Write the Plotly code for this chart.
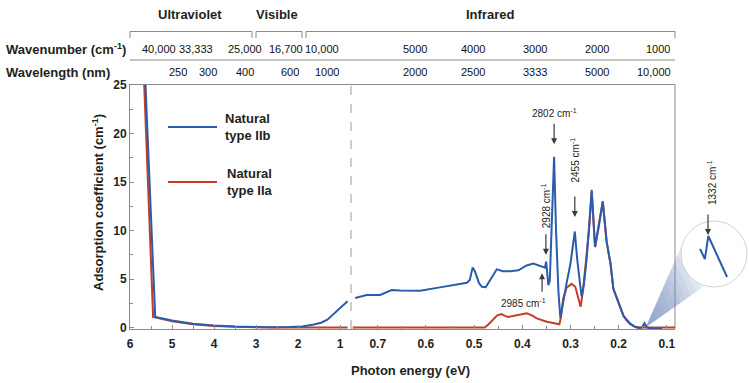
import plotly.graph_objects as go

# ---------------- data ----------------
# Left panel: UV / visible / near-IR, photon energy in eV (6 -> ~0.74)
uv_energy_iib = [5.635, 5.40, 5.20, 5.00, 4.50, 4.00, 3.50, 3.00, 2.60, 2.20, 1.90,
                 1.65, 1.45, 1.30, 1.10, 0.95, 0.82]
uv_coef_iib = [25.4, 1.10, 0.90, 0.72, 0.40, 0.20, 0.10, 0.04, 0.03, 0.06, 0.12,
               0.28, 0.50, 0.80, 1.60, 2.20, 2.70]
uv_energy_iia = [5.665, 5.45, 5.20, 5.00, 4.50, 4.00, 3.50, 3.00, 2.60, 2.00, 1.50,
                 1.00, 0.82]
uv_coef_iia = [25.4, 1.10, 0.85, 0.65, 0.33, 0.16, 0.07, 0.02, 0.0, 0.0, 0.0,
               0.0, 0.0]

# Right panel: mid-IR, photon energy in eV (~0.75 -> 0.08)
ir_energy_iib = [0.747, 0.723, 0.695, 0.688, 0.671, 0.654, 0.612, 0.571, 0.536,
                 0.515, 0.509, 0.503, 0.498, 0.490, 0.484, 0.476, 0.468, 0.453,
                 0.440, 0.425, 0.408, 0.391, 0.377, 0.360, 0.353, 0.3505, 0.3485,
                 0.346, 0.343, 0.334, 0.330, 0.325, 0.321, 0.315, 0.308, 0.300,
                 0.291, 0.286, 0.281, 0.277, 0.272, 0.267, 0.262, 0.256, 0.249,
                 0.242, 0.233, 0.225, 0.217, 0.211, 0.204, 0.190, 0.176, 0.165,
                 0.158, 0.152, 0.1465, 0.141, 0.130, 0.115, 0.110]
ir_coef_iib = [3.04, 3.35, 3.35, 3.50, 3.87, 3.82, 3.80, 4.14, 4.48,
               4.62, 4.90, 6.20, 5.75, 4.60, 4.20, 4.15, 4.80, 6.00,
               5.80, 5.80, 5.90, 6.40, 6.60, 6.27, 6.17, 6.80, 5.30,
               4.38, 4.80, 17.6, 10.0, 3.70, 1.00, 2.80, 4.60, 6.60,
               9.90, 7.00, 4.50, 3.20, 4.50, 6.80, 10.0, 14.2, 8.30,
               10.2, 13.0, 8.85, 6.60, 4.00, 3.10, 1.20, 0.40, 0.05,
               -0.05, 0.0, 0.45, 0.0, -0.10, -0.12, -0.12]
ir_energy_iia = [0.752, 0.500, 0.478, 0.470, 0.462, 0.452, 0.443, 0.436, 0.429,
                 0.420, 0.412, 0.400, 0.391, 0.380, 0.370, 0.349, 0.335, 0.323,
                 0.320, 0.315, 0.308, 0.298, 0.290, 0.284, 0.279, 0.274, 0.268,
                 0.262, 0.256, 0.249, 0.242, 0.233, 0.225, 0.217, 0.211, 0.204,
                 0.190, 0.184, 0.176, 0.165, 0.155, 0.083]
ir_coef_iia = [0.0, 0.0, 0.0, 0.35, 0.80, 1.25, 1.39, 1.20, 1.10,
               1.20, 1.29, 1.40, 1.46, 1.25, 0.95, 0.60, 0.45, 0.33,
               1.00, 3.00, 4.10, 4.50, 4.20, 3.20, 2.14, 3.80, 6.50,
               9.80, 14.0, 8.30, 10.2, 13.0, 8.85, 6.60, 4.00, 3.10,
               1.20, 0.77, 0.35, 0.05, 0.0, 0.0]

# Magnified view around the 1332 cm-1 line (type IIb)
zoom_energy = [0.1496, 0.1482, 0.1472, 0.1418]
zoom_coef = [0.271, 0.098, 0.496, -0.213]

# Axis ticks
left_ticks = [6, 5, 4, 3, 2, 1]
right_ticks = [0.7, 0.6, 0.5, 0.4, 0.3, 0.2, 0.1]
y_ticks = [0, 5, 10, 15, 20, 25]

# Upper scales: wavenumber and wavelength labels
wavenumber_labels = ["40,000", "33,333", "25,000", "16,700", "10,000",
                     "5000", "4000", "3000", "2000", "1000"]
wavenumber_label_x = [159, 196, 244.5, 286, 322, 415, 473.5, 534.5, 596.5, 657.5]
wavelength_labels = ["250", "300", "400", "600", "1000",
                     "2000", "2500", "3333", "5000", "10,000"]
wavelength_label_x = [178, 208, 245, 290, 327, 415, 473.5, 535, 596.5, 654]
region_labels = ["Ultraviolet", "Visible", "Infrared"]
region_label_x = [189.5, 277, 490]
region_spans = [(130, 252), (256, 302), (306, 675)]
# top-frame ticks (eV) following the wavenumber scale
top_ticks_left = [4.96, 4.13, 3.10, 2.07, 1.24]
top_ticks_right = [0.702, 0.640, 0.577, 0.513, 0.450, 0.388, 0.326, 0.260, 0.197, 0.129]

BLUE = "#2b5cab"
RED = "#c63d24"
TXT = "#231f20"
AX = "#8a8a8a"
FONT = "Liberation Sans, Arial, sans-serif"

W, H = 749, 383
ML, MR, MT, MB = 130, 0, 85, 54
PW, PH = W - ML - MR, H - MT - MB


def fx(p):
    return (p - ML) / PW


def fy(p):
    return (H - MB - p) / PH


split = fx(351)
right_end = fx(675)

fig = go.Figure()

fig.add_trace(go.Scatter(x=uv_energy_iia, y=uv_coef_iia, mode="lines",
                         line=dict(color=RED, width=2), xaxis="x", yaxis="y",
                         showlegend=False))
fig.add_trace(go.Scatter(x=ir_energy_iia, y=ir_coef_iia, mode="lines",
                         line=dict(color=RED, width=2), xaxis="x2", yaxis="y",
                         showlegend=False))
fig.add_trace(go.Scatter(x=uv_energy_iib, y=uv_coef_iib, mode="lines",
                         line=dict(color=BLUE, width=2), xaxis="x", yaxis="y",
                         showlegend=False))
fig.add_trace(go.Scatter(x=ir_energy_iib, y=ir_coef_iib, mode="lines",
                         line=dict(color=BLUE, width=2), xaxis="x2", yaxis="y",
                         showlegend=False))
# magnified curve inside the lens
fig.add_trace(go.Scatter(x=zoom_energy, y=zoom_coef, mode="lines",
                         line=dict(color=BLUE, width=2), xaxis="x5", yaxis="y5",
                         showlegend=False, cliponaxis=False))

tickfont = dict(family=FONT, size=12, color=TXT, weight="bold")

fig.update_layout(
    width=W, height=H,
    margin=dict(l=ML, r=MR, t=MT, b=MB),
    paper_bgcolor="white", plot_bgcolor="rgba(0,0,0,0)",
    font=dict(family=FONT, color=TXT),
    xaxis=dict(domain=[0, split], range=[6, 6 - 221 / 42], anchor="y",
               tickvals=left_ticks, ticks="inside", ticklen=4, tickcolor=AX,
               showline=True, linecolor=AX, linewidth=1, mirror=True,
               showgrid=False, zeroline=False, tickfont=tickfont,
               ticklabelstandoff=4,
               minor=dict(dtick=0.5, ticks="inside", ticklen=3, tickcolor=AX)),
    xaxis2=dict(domain=[split, right_end], range=[0.7555, 0.0831], anchor="y",
                tickvals=right_ticks, ticks="inside", ticklen=4, tickcolor=AX,
                showline=True, linecolor=AX, linewidth=1, mirror=True,
                showgrid=False, zeroline=False, tickfont=tickfont,
                ticklabelstandoff=4,
                minor=dict(dtick=0.05, ticks="inside", ticklen=3, tickcolor=AX)),
    xaxis3=dict(domain=[0, split], range=[6, 6 - 221 / 42], overlaying="x",
                side="top", anchor="y", tickvals=top_ticks_left, ticks="inside",
                ticklen=4, tickcolor=AX, showticklabels=False, showgrid=False,
                zeroline=False),
    xaxis4=dict(domain=[split, right_end], range=[0.7555, 0.0831], overlaying="x2",
                side="top", anchor="y", tickvals=top_ticks_right, ticks="inside",
                ticklen=4, tickcolor=AX, showticklabels=False, showgrid=False,
                zeroline=False),
    yaxis=dict(domain=[0, 1], range=[-0.15, 25], anchor="x",
               tickvals=y_ticks, ticks="inside", ticklen=4, tickcolor=AX,
               showline=True, linecolor=AX, linewidth=1,
               showgrid=False, zeroline=False, tickfont=tickfont,
               minor=dict(dtick=2.5, ticks="inside", ticklen=3, tickcolor=AX)),
    xaxis5=dict(domain=[fx(690), fx(735)], range=[0.1525, 0.1395], anchor="y5",
                visible=False),
    yaxis5=dict(domain=[fy(282), fy(230)], range=[-0.3, 0.6], anchor="x5",
                visible=False),
)

shapes = []
# right frame edge
shapes.append(dict(type="line", xref="paper", yref="paper", x0=right_end, x1=right_end,
                   y0=0, y1=1, layer="below", line=dict(color=AX, width=1)))
# break between the two energy scales
shapes.append(dict(type="line", xref="paper", yref="paper", x0=split, x1=split,
                   y0=0, y1=1, line=dict(color="#9a9a9a", width=1, dash="dash")))
# region brackets
for a, b in region_spans:
    shapes.append(dict(type="path", xref="paper", yref="paper",
                       path=f"M{fx(a)},{fy(38)} L{fx(a)},{fy(31.5)} L{fx(b)},{fy(31.5)} L{fx(b)},{fy(38)}",
                       line=dict(color=AX, width=1)))
# separator between wavenumber and wavelength rows
shapes.append(dict(type="line", xref="paper", yref="paper", x0=fx(130), x1=fx(675),
                   y0=fy(60), y1=fy(60), line=dict(color=AX, width=1)))

# magnifier cone (layered for a soft fade) and lens, kept beneath the curves
apex = (646, 327)
t1 = (684, 240)
t2 = (706, 285)
n_layers = 12
for k in range(1, n_layers + 1):
    f = k / n_layers
    p1 = (apex[0] + f * (t1[0] - apex[0]), apex[1] + f * (t1[1] - apex[1]))
    p2 = (apex[0] + f * (t2[0] - apex[0]), apex[1] + f * (t2[1] - apex[1]))
    shapes.append(dict(type="path", xref="paper", yref="paper", layer="below",
                       path=f"M{fx(apex[0])},{fy(apex[1])} L{fx(p1[0])},{fy(p1[1])} L{fx(p2[0])},{fy(p2[1])} Z",
                       fillcolor="rgba(110,135,185,0.10)", line=dict(width=0)))
shapes.append(dict(type="circle", xref="paper", yref="paper", layer="below",
                   x0=fx(681), x1=fx(747), y0=fy(287), y1=fy(221),
                   fillcolor="white", line=dict(color="#d2d2d2", width=1)))

# legend samples
shapes.append(dict(type="line", xref="paper", yref="paper", x0=fx(168), x1=fx(217),
                   y0=fy(127), y1=fy(127), line=dict(color=BLUE, width=2)))
shapes.append(dict(type="line", xref="paper", yref="paper", x0=fx(168), x1=fx(217),
                   y0=fy(182), y1=fy(182), line=dict(color=RED, width=2)))
fig.update_layout(shapes=shapes)

ann = []
hdr = dict(family=FONT, size=13, color=TXT, weight="bold")
num = dict(family=FONT, size=11, color="#111")


def label(text, x, y, font, xanchor="center", textangle=0, align="center"):
    return dict(text=text, x=x, y=y, xref="paper", yref="paper", showarrow=False,
                font=font, xanchor=xanchor, yanchor="middle", textangle=textangle,
                align=align)


for lab, x in zip(region_labels, region_label_x):
    ann.append(label(lab, fx(x), fy(14), hdr))
ann.append(label("Wavenumber (cm<sup>-1</sup>)", fx(4), fy(49), hdr, xanchor="left"))
ann.append(label("Wavelength (nm)", fx(4), fy(72), hdr, xanchor="left"))
for lab, x in zip(wavenumber_labels, wavenumber_label_x):
    ann.append(label(lab, fx(x), fy(49), num))
for lab, x in zip(wavelength_labels, wavelength_label_x):
    ann.append(label(lab, fx(x), fy(72), num))

# axis titles
ann.append(label("Photon energy (eV)", fx(410), fy(370), hdr))
ann.append(label("Adsorption coefficient (cm<sup>-1</sup>)", fx(98), fy(203), hdr,
                 textangle=-90))

# legend text
leg = dict(family=FONT, size=13, color=TXT, weight="bold")
ann.append(label("Natural<br>type IIb", fx(223), fy(127), leg, xanchor="left", align="left"))
ann.append(label("Natural<br>type IIa", fx(225), fy(182), leg, xanchor="left", align="left"))

# peak labels
pk = dict(family=FONT, size=10, color=TXT)
arrow = dict(showarrow=True, arrowhead=2, arrowsize=1, arrowwidth=1.2,
             arrowcolor="#3a3a3a", text="")


def peak_text(text, x, y, angle=0):
    return dict(text=text, x=x, y=y, xref="x2", yref="y", showarrow=False,
                font=pk, xanchor="center", yanchor="middle", textangle=angle)


ann.append(peak_text("2802 cm<sup>-1</sup>", 0.334, 22.1))
ann.append(dict(x=0.334, y=18.9, xref="x2", yref="y", ax=0, ay=-22, **arrow))
ann.append(peak_text("2928 cm<sup>-1</sup>", 0.351, 12.6, -90))
ann.append(dict(x=0.351, y=7.5, xref="x2", yref="y", ax=0, ay=-22, **arrow))
ann.append(peak_text("2455 cm<sup>-1</sup>", 0.291, 17.3, -90))
ann.append(dict(x=0.291, y=11.4, xref="x2", yref="y", ax=0, ay=-22, **arrow))
ann.append(peak_text("2985 cm<sup>-1</sup>", 0.398, 2.5))
ann.append(dict(x=0.359, y=5.6, xref="x2", yref="y", ax=0, ay=20, **arrow))
ann.append(label("1332 cm<sup>-1</sup>", fx(712), fy(183), pk, textangle=-90))
ann.append(dict(x=fx(708), y=fy(235), xref="paper", yref="paper", ax=0, ay=-22, **arrow))

fig.update_layout(annotations=ann)

fig.write_html("out.html")
